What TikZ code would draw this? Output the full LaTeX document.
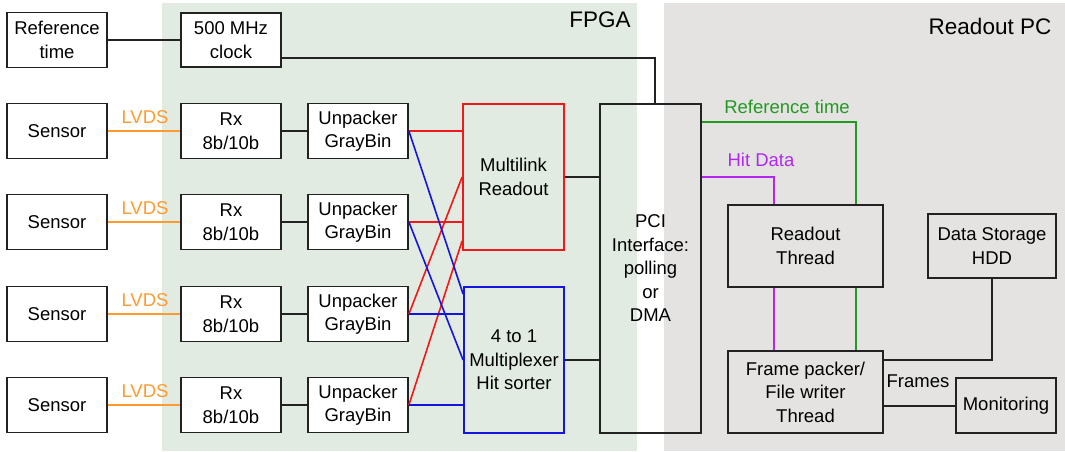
\documentclass[tikz,border=0pt]{standalone}
\usepackage{fontspec}
\setmainfont{Liberation Sans}
\usetikzlibrary{calc}
\definecolor{fpgabg}{HTML}{E1EBE1}
\definecolor{pcbg}{HTML}{E4E3E2}
\definecolor{lvdscol}{HTML}{FF9A2E}
\definecolor{redcol}{HTML}{F01818}
\definecolor{bluecol}{HTML}{1515E0}
\definecolor{greencol}{HTML}{229A22}
\definecolor{purplecol}{HTML}{B028F0}
\definecolor{boxline}{HTML}{222222}
\begin{document}
\begin{tikzpicture}[x=1pt,y=-1pt,
  box/.style={draw=boxline, line width=1.8pt, align=center, inner sep=0pt,
    font=\fontsize{18.5}{23.5}\selectfont},
  wbox/.style={box, fill=white},
  sz/.style 2 args={minimum width=#1pt, minimum height=#2pt},
  lbl/.style={inner sep=0pt, font=\fontsize{18.5}{23.5}\selectfont},
  title/.style={inner sep=0pt, font=\fontsize{22.5}{27}\selectfont},
  wire/.style={line width=1.6pt, boxline},
  lvdsw/.style={line width=1.6pt, lvdscol},
  redw/.style={line width=1.6pt, redcol},
  bluew/.style={line width=1.6pt, bluecol},
  greenw/.style={line width=1.6pt, greencol},
  purplew/.style={line width=1.6pt, purplecol}]
\useasboundingbox (0,0) rectangle (1065,451);
\fill[fpgabg] (162,3) rectangle (637,451);
\fill[pcbg] (664,3) rectangle (1065,451);
\node[title] (fpgat) at (600,20) {FPGA};
\node[title] (pct) at (990,26) {Readout PC};

% top row
\node[wbox, sz={100}{55}] (ref) at (57,40) {Reference\\time};
\node[wbox, sz={100}{54}] (clk) at (231,40) {500 MHz\\clock};

% sensor rows
\foreach \i/\y in {1/131,2/222,3/314,4/405}{
  \node[wbox, sz={100}{55}] (sen\i) at (57,\y) {Sensor};
  \node[wbox, sz={100}{55}] (rx\i) at (231,\y) {Rx\\8b/10b};
  \node[wbox, sz={100}{55}] (unp\i) at (358,\y) {Unpacker\\GrayBin};
  \draw[lvdsw] (sen\i.east) -- (rx\i.west);
  \node[lbl, text=lvdscol] (lv\i) at (145,\y-14) {LVDS};
  \draw[wire] (rx\i.east) -- (unp\i.west);
}

% FPGA blocks
\node[box, draw=redcol, sz={101}{146}] (mlr) at (513.5,177) {Multilink\\Readout};
\node[box, draw=bluecol, sz={100}{146}] (mux) at (514,360) {4 to 1\\Multiplexer\\Hit sorter};
\node[box, sz={101}{329}] (pci) at (650.5,268.5) {PCI\\Interface:\\polling\\or\\DMA};

% PC blocks
\node[box, sz={155}{82}] (rt) at (805.5,246) {Readout\\Thread};
\node[box, sz={128}{64}] (hdd) at (992,246) {Data Storage\\HDD};
\node[box, sz={155}{82}] (fp) at (805.5,392) {Frame packer/\\File writer\\Thread};
\node[box, sz={100}{55}] (mon) at (1006,405.5) {Monitoring};

% clock wiring
\draw[wire] (ref.east) -- (clk.west);
\coordinate (ck1) at (655,58);
\draw[wire] ([yshift=-18pt]clk.east) -- (ck1) -- (ck1 |- pci.north);

% unpacker to multilink (red)
\draw[redw] (unp1.east) -- (unp1.east -| mlr.west);
\draw[redw] (unp2.east) -- (unp2.east -| mlr.west);
\draw[redw] (unp3.east) -- (mlr.west);
\draw[redw] (unp4.east) -- ([yshift=10pt]mlr.south west);

% unpacker to multiplexer (blue)
\draw[bluew] (unp1.east) -- ([yshift=-8pt]mux.north west);
\draw[bluew] (unp2.east) -- (mux.west);
\draw[bluew] (unp3.east) -- (unp3.east -| mux.west);
\draw[bluew] (unp4.east) -- (unp4.east -| mux.west);

% to PCI
\draw[wire] (mlr.east) -- (mlr.east -| pci.west);
\draw[wire] (mux.east) -- (mux.east -| pci.west);

% PCI to readout thread
\coordinate (g1) at (856,122);
\coordinate (p1) at (774,177);
\draw[greenw] (g1 -| pci.east) -- (g1) -- (g1 |- rt.north);
\draw[purplew] (p1 -| pci.east) -- (p1) -- (p1 |- rt.north);
\node[lbl, text=greencol] (reflbl) at (787,107) {Reference time};
\node[lbl, text=purplecol] (hitlbl) at (761,160) {Hit Data};

% readout thread to frame packer
\draw[purplew] (p1 |- rt.south) -- (p1 |- fp.north);
\draw[greenw] (g1 |- rt.south) -- (g1 |- fp.north);

% frame packer to storage and monitoring
\coordinate (s1) at (992,360);
\draw[wire] (s1 -| fp.east) -- (s1) -- (hdd.south);
\coordinate (m1) at (956,406);
\draw[wire] (m1 -| fp.east) -- (m1 -| mon.west);
\node[lbl] (frlbl) at (918,381) {Frames};
\end{tikzpicture}
\end{document}
